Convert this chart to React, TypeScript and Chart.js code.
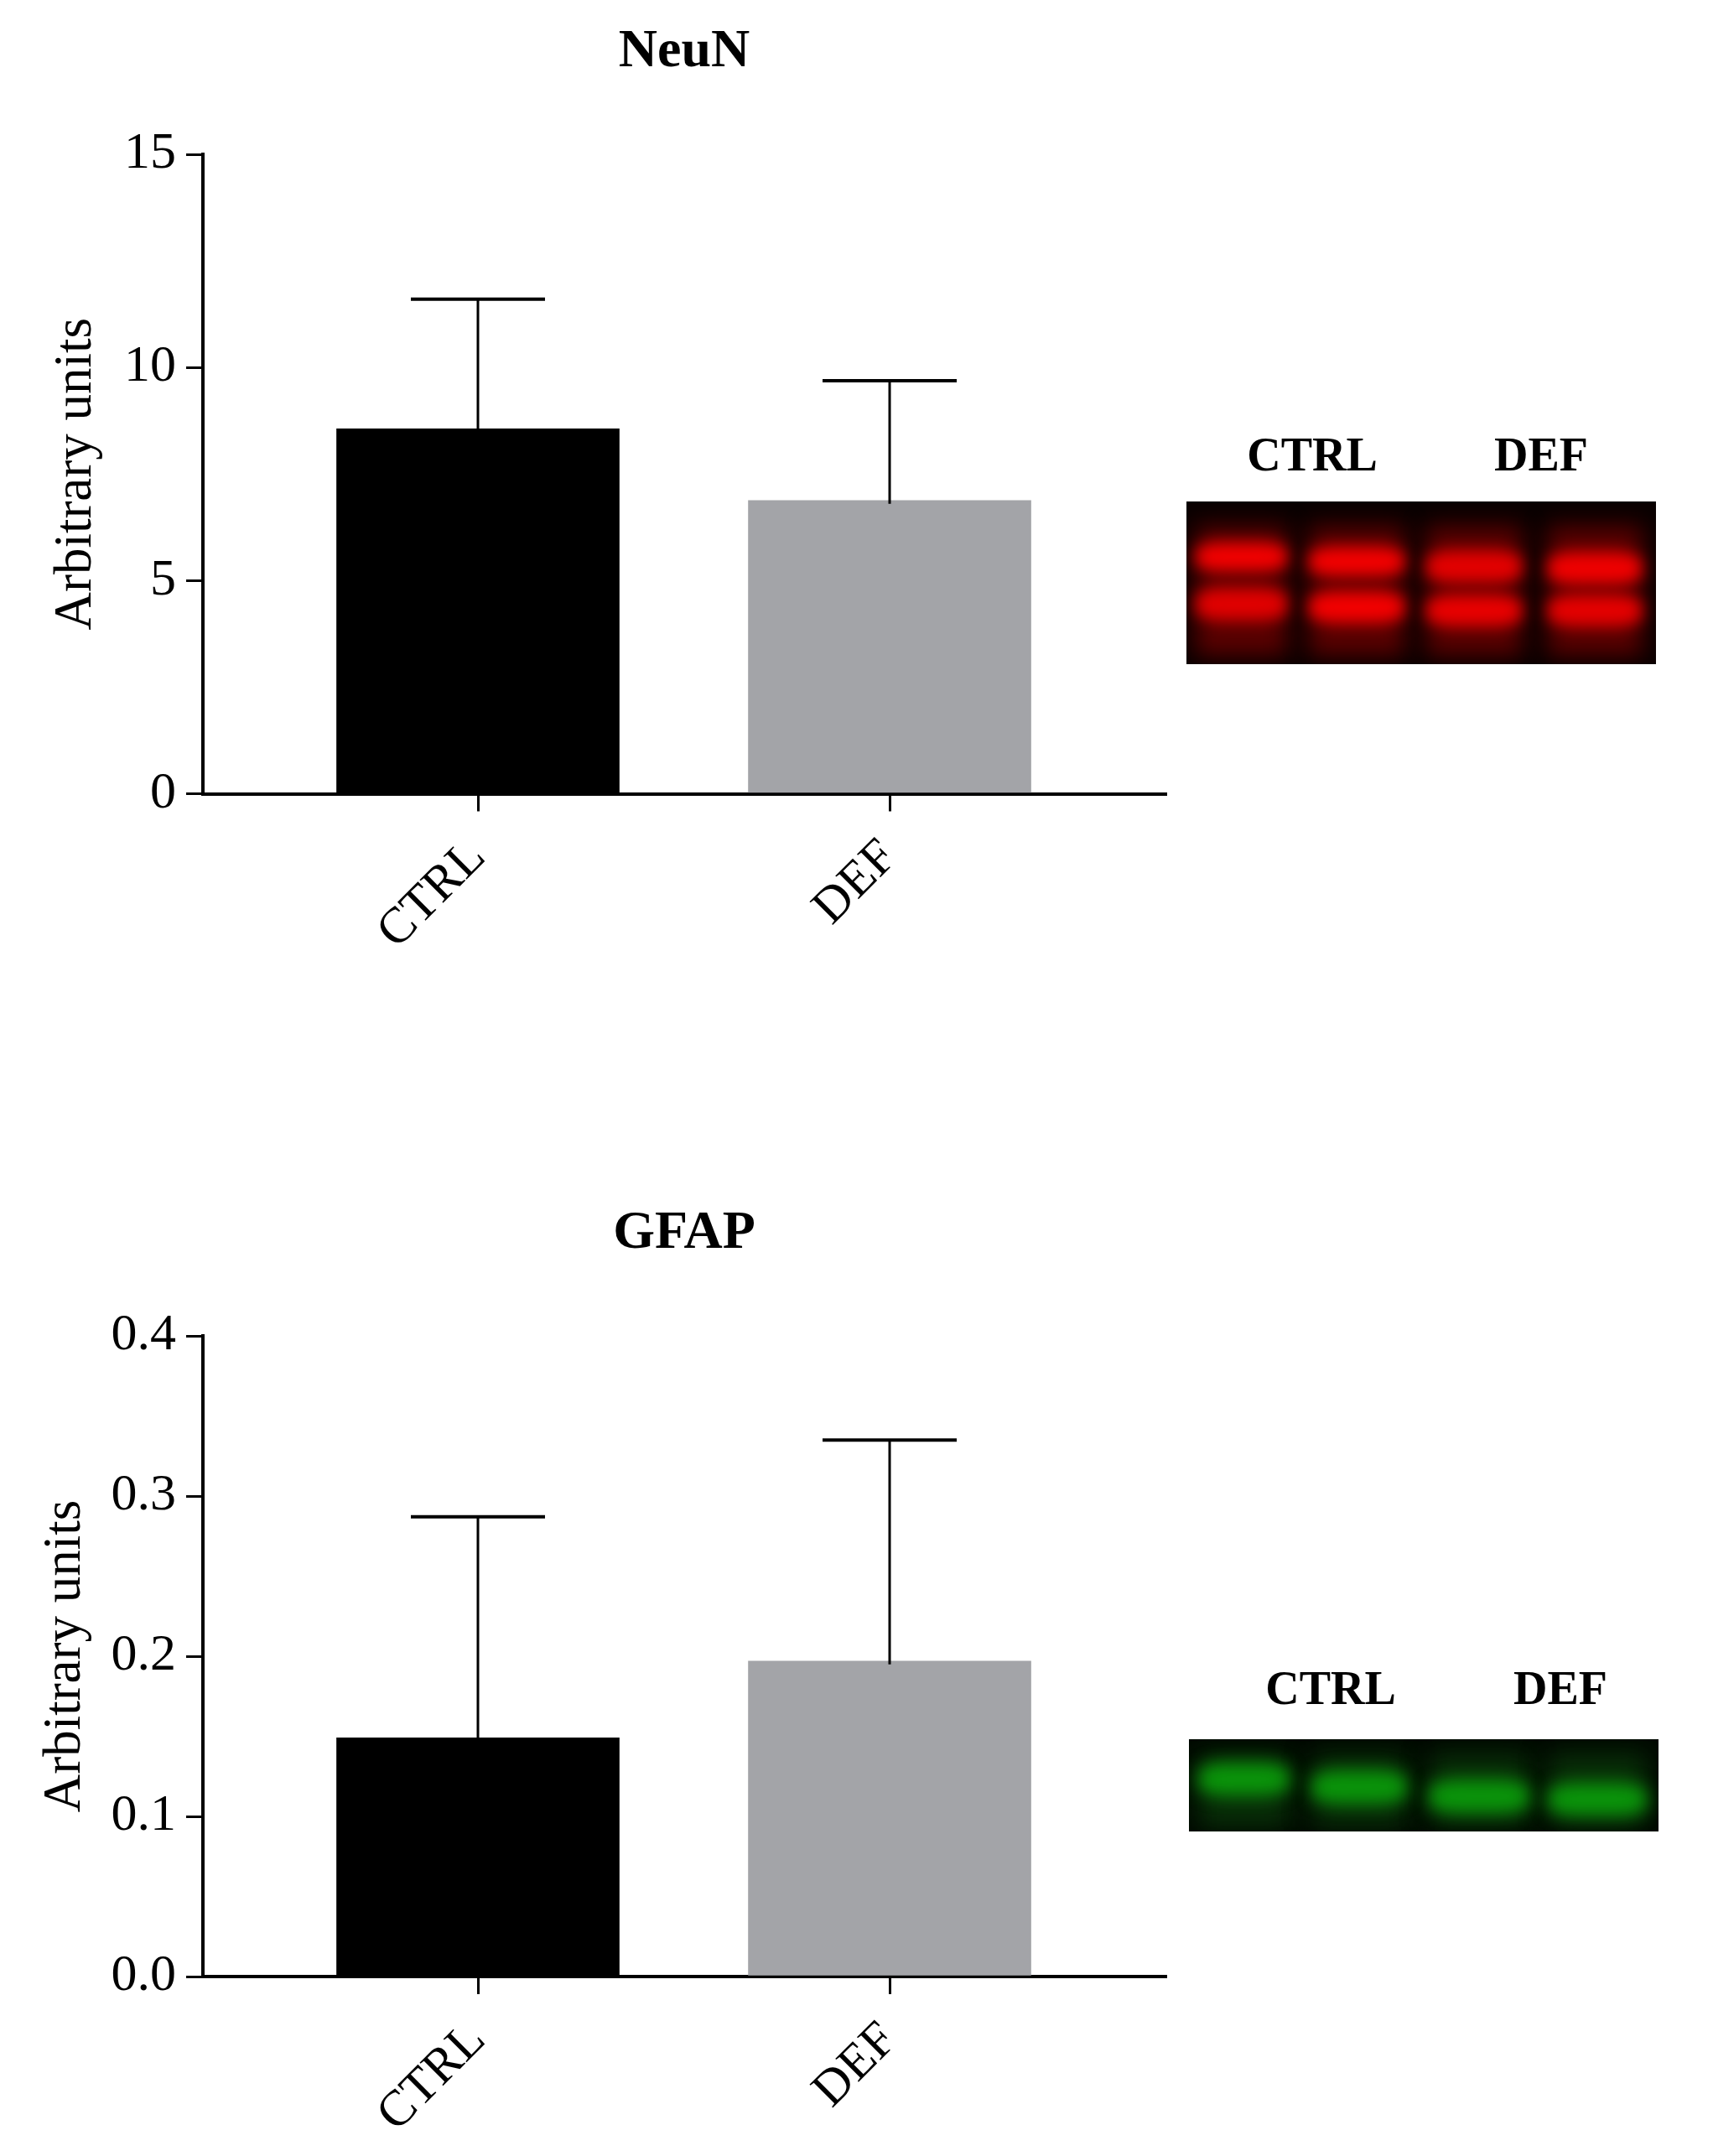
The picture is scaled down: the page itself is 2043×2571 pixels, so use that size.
import React, { useEffect, useRef } from 'react';
import { Chart, registerables } from 'chart.js';

Chart.register(...registerables);

// ---------- data ----------
const categories = ['CTRL', 'DEF'];
const neunMeans = [8.56, 6.88];
const neunErrors = [3.04, 2.81];
const neunTicks = [0, 5, 10, 15];
const gfapMeans = [0.149, 0.197];
const gfapErrors = [0.138, 0.138];
const gfapTicks = [0, 0.1, 0.2, 0.3, 0.4];
const barColors = ['#000000', '#a3a4a8'];

const FAMILY = '"Liberation Serif", "Times New Roman", serif';

const errorBarPlugin = {
  id: 'errorBars',
  afterDatasetsDraw(chart: any, _args: any, opts: any) {
    const { ctx } = chart;
    const x = chart.scales.x;
    const y = chart.scales.y;
    const means: number[] = opts.means;
    const errs: number[] = opts.errors;
    ctx.save();
    ctx.strokeStyle = '#000';
    errs.forEach((e, i) => {
      const px = x.getPixelForValue(i);
      const y0 = y.getPixelForValue(means[i]);
      const y1 = y.getPixelForValue(means[i] + e);
      ctx.lineWidth = 3;
      ctx.beginPath();
      ctx.moveTo(px, y0 + 4);
      ctx.lineTo(px, y1);
      ctx.stroke();
      ctx.lineWidth = 4;
      ctx.beginPath();
      ctx.moveTo(px - 80, y1);
      ctx.lineTo(px + 80, y1);
      ctx.stroke();
    });
    ctx.restore();
  },
};

interface PanelProps {
  title: string;
  means: number[];
  errors: number[];
  ticks: number[];
  decimals: number;
  width: number;
  height: number;
  titleCenter: number;
  areaTop: number;
  areaBottom: number;
  yTitleCenter: number;
}

function BarPanel(p: PanelProps) {
  const ref = useRef<HTMLCanvasElement | null>(null);
  useEffect(() => {
    if (!ref.current) return;
    const titleSize = 64;
    const yTitleSize = 63;
    const titleLH = titleSize * 1.2;
    const padTop = p.titleCenter - titleLH / 2;
    const padBottom = p.areaTop - padTop - titleLH;
    const chart = new Chart(ref.current, {
      type: 'bar',
      data: {
        datasets: [
          {
            data: p.means.map((m, i) => ({ x: i, y: m })),
            backgroundColor: barColors,
            borderWidth: 0,
            barThickness: 337,
          },
        ],
      },
      options: {
        animation: false,
        responsive: false,
        devicePixelRatio: 1,
        layout: { padding: { left: 0, right: 10, top: 0, bottom: 0 } },
        plugins: {
          legend: { display: false },
          tooltip: { enabled: false },
          title: {
            display: true,
            fullSize: false,
            text: p.title,
            color: '#000',
            font: { family: FAMILY, size: titleSize, weight: 'bold', lineHeight: 1.2 },
            padding: { top: padTop, bottom: padBottom },
          },
          errorBars: { means: p.means, errors: p.errors },
        } as any,
        scales: {
          x: {
            type: 'linear',
            offset: false,
            min: -0.668,
            max: categories.length - 1 + 0.67,
            afterBuildTicks: (s: any) => {
              s.ticks = categories.map((_, i) => ({ value: i }));
            },
            afterFit: (s: any) => {
              s.height = p.height - p.areaBottom;
            },
            grid: {
              offset: false,
              drawOnChartArea: false,
              drawTicks: true,
              tickLength: 21,
              color: '#000',
              lineWidth: 3,
            },
            border: { display: true, color: '#000', width: 4 },
            ticks: {
              autoSkip: false,
              minRotation: 45,
              maxRotation: 45,
              padding: 20,
              color: '#000',
              font: { family: FAMILY, size: 60 },
              callback: (v: any) => categories[v as number] ?? '',
            },
          },
          y: {
            type: 'linear',
            min: p.ticks[0],
            max: p.ticks[p.ticks.length - 1],
            afterBuildTicks: (s: any) => {
              s.ticks = p.ticks.map((v) => ({ value: v }));
            },
            afterFit: (s: any) => {
              s.width = 242;
            },
            grid: {
              drawOnChartArea: false,
              drawTicks: true,
              tickLength: 20,
              color: '#000',
              lineWidth: 3,
            },
            border: { display: true, color: '#000', width: 4 },
            ticks: {
              padding: 12,
              color: '#000',
              font: { family: FAMILY, size: 62 },
              callback: (v: any) => Number(v).toFixed(p.decimals),
            },
            title: {
              display: true,
              text: 'Arbitrary units',
              color: '#000',
              font: { family: FAMILY, size: yTitleSize, lineHeight: 1.2 },
              padding: { top: p.yTitleCenter - (yTitleSize * 1.2) / 2, bottom: 0 },
            },
          },
        },
      },
      plugins: [errorBarPlugin],
    } as any);
    return () => chart.destroy();
  }, []);
  return <canvas ref={ref} width={p.width} height={p.height} style={{ display: 'block', width: p.width, height: p.height }} />;
}

interface Band {
  x0: number;
  x1: number;
  yc: number;
  h: number;
  color: string;
}

function Blot(props: { left: number; top: number; width: number; height: number; bg: string; glow: string; bands: Band[]; blur: number }) {
  const { left, top, width, height, bg, glow, bands, blur } = props;
  const lanes = Array.from(new Set(bands.map((b) => b.x0 + ':' + b.x1))).map((s) => s.split(':').map(Number));
  return (
    <div style={{ position: 'absolute', left, top, width, height, background: bg, overflow: 'hidden' }}>
      {lanes.map(([x0, x1], i) => (
        <div
          key={'g' + i}
          style={{
            position: 'absolute',
            left: x0 * width,
            width: (x1 - x0) * width,
            top: height * 0.15,
            height: height * 0.8,
            background: glow,
            filter: `blur(${blur * 1.5}px)`,
          }}
        />
      ))}
      {bands.map((b, i) => (
        <div
          key={i}
          style={{
            position: 'absolute',
            left: b.x0 * width,
            width: (b.x1 - b.x0) * width,
            top: (b.yc - b.h / 2) * height,
            height: b.h * height,
            background: b.color,
            borderRadius: '30%',
            filter: `blur(${blur}px)`,
          }}
        />
      ))}
    </div>
  );
}

const labelStyle = (x: number, y: number): React.CSSProperties => ({
  position: 'absolute',
  left: x,
  top: y,
  transform: 'translate(-50%, -50%)',
  fontFamily: FAMILY,
  fontWeight: 'bold',
  fontSize: 56,
  lineHeight: 1,
  color: '#000',
  whiteSpace: 'nowrap',
});

export default function App() {
  const red = '#f20000';
  const green = '#0a940a';
  const redBands: Band[] = [
    { x0: 0.02, x1: 0.215, yc: 0.34, h: 0.18, color: red },
    { x0: 0.02, x1: 0.215, yc: 0.63, h: 0.2, color: '#e00000' },
    { x0: 0.26, x1: 0.465, yc: 0.37, h: 0.18, color: red },
    { x0: 0.26, x1: 0.465, yc: 0.65, h: 0.2, color: red },
    { x0: 0.51, x1: 0.715, yc: 0.40, h: 0.2, color: '#e20000' },
    { x0: 0.51, x1: 0.715, yc: 0.67, h: 0.2, color: '#e80000' },
    { x0: 0.77, x1: 0.97, yc: 0.41, h: 0.2, color: '#ee0000' },
    { x0: 0.77, x1: 0.97, yc: 0.67, h: 0.2, color: '#e40000' },
  ];
  const greenBands: Band[] = [
    { x0: 0.02, x1: 0.215, yc: 0.43, h: 0.36, color: green },
    { x0: 0.26, x1: 0.465, yc: 0.52, h: 0.36, color: green },
    { x0: 0.51, x1: 0.725, yc: 0.62, h: 0.36, color: green },
    { x0: 0.765, x1: 0.975, yc: 0.65, h: 0.36, color: green },
  ];
  return (
    <div style={{ position: 'absolute', left: 0, top: 0, width: 2043, height: 2571, background: '#fff', overflow: 'hidden' }}>
      <div style={{ position: 'absolute', left: 0, top: 0 }}>
        <BarPanel
          title="NeuN"
          means={neunMeans}
          errors={neunErrors}
          ticks={neunTicks}
          decimals={0}
          width={1400}
          height={1200}
          titleCenter={62}
          areaTop={184}
          areaBottom={946.5}
          yTitleCenter={91}
        />
      </div>
      <div style={{ position: 'absolute', left: 0, top: 1300 }}>
        <BarPanel
          title="GFAP"
          means={gfapMeans}
          errors={gfapErrors}
          ticks={gfapTicks}
          decimals={1}
          width={1400}
          height={1271}
          titleCenter={171}
          areaTop={293}
          areaBottom={1057}
          yTitleCenter={78}
        />
      </div>
      <div style={labelStyle(1565, 542)}>CTRL</div>
      <div style={labelStyle(1838, 542)}>DEF</div>
      <Blot left={1415} top={598} width={560} height={194} bg="#0a0000" glow="#5a0000" bands={redBands} blur={9} />
      <div style={labelStyle(1587, 2013)}>CTRL</div>
      <div style={labelStyle(1861, 2013)}>DEF</div>
      <Blot left={1418} top={2074} width={560} height={110} bg="#000800" glow="#083008" bands={greenBands} blur={10} />
    </div>
  );
}
